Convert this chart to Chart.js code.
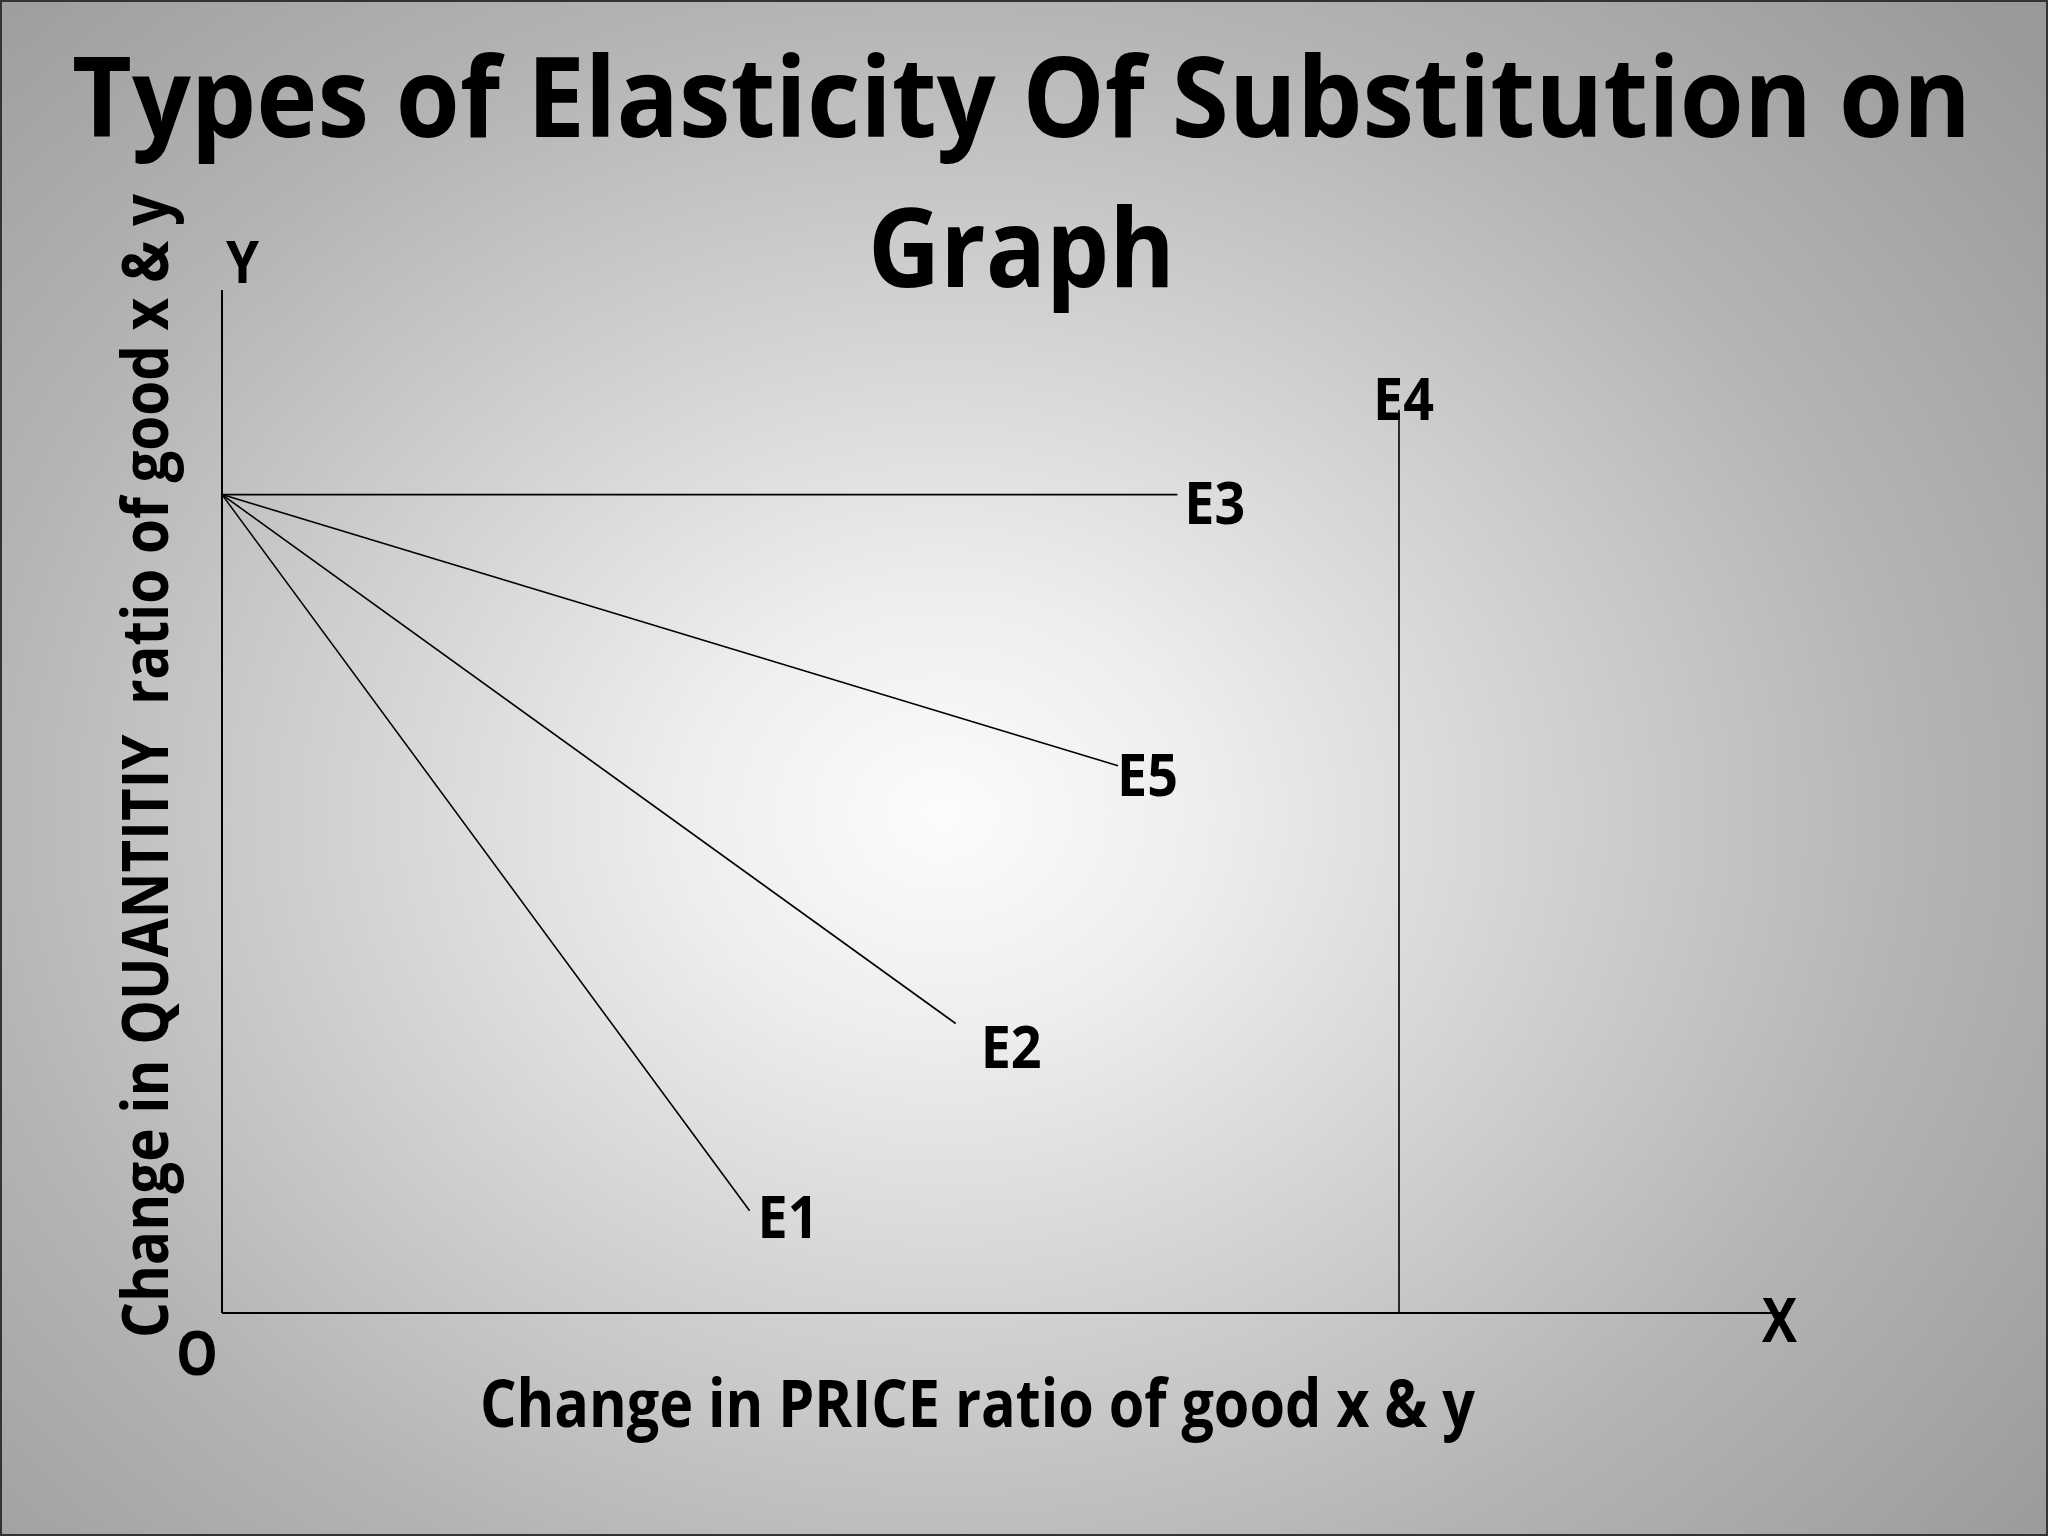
<!DOCTYPE html>
<html>
<head>
<meta charset="utf-8">
<title>Types of Elasticity Of Substitution on Graph</title>
<script src="https://cdn.jsdelivr.net/npm/chart.js@4.4.1/dist/chart.umd.min.js"></script>
<style>
  html, body { margin: 0; padding: 0; }
  body { width: 2048px; height: 1536px; overflow: hidden; }
  #wrap {
    position: relative; width: 2048px; height: 1536px;
    background: radial-gradient(ellipse 70% 78% at 46% 53%, #fcfcfc 0%, #eeeeee 18%, #d2d2d2 42%, #b4b4b4 68%, #999999 100%);
  }
  #wrap::after {
    content: ""; position: absolute; inset: 0;
    border: 2px solid #333; pointer-events: none;
  }
  canvas { display: block; }
</style>
</head>
<body>
<div id="wrap"><canvas id="grafik" width="2048" height="1536"></canvas></div>
<script>
// data (axis units 0..100 on both axes)
const lineNames = ["E1", "E2", "E3", "E4", "E5"];
const startX = [0, 0, 0, 75.4, 0];
const startY = [80, 80, 80, 0, 80];
const endX = [33.8, 47.0, 61.2, 75.4, 57.4];
const endY = [10.0, 28.3, 80, 88.3, 53.5];
const axisMax = 100;

// where each label sits relative to the end of its line (px)
const labelOffset = {
  E1: [8, 27], E2: [25, 45], E3: [7, 29], E4: [-26, 10], E5: [-1, 30]
};

// free text on the slide: left, baseline, width, cap height
const texts = [
  { t: "Types of Elasticity Of Substitution on", x: 72, y: 137, w: 1899, cap: 79 },
  { t: "Graph", x: 868, y: 287, w: 307, cap: 78 },
  { t: "Change in PRICE ratio of good x & y", x: 480, y: 1427, w: 995, cap: 47 },
  { t: "Change in QUANTITIY  ratio of good x & y", x: 168, y: 1338, w: 1144, cap: 46, rot: true },
  { t: "Y", x: 226, y: 283, w: 33, cap: 42 },
  { t: "X", x: 1762, y: 1342, w: 35, cap: 44 },
  { t: "O", x: 176, y: 1375, w: 42, cap: 43 }
];

function drawText(ctx, t, x, y, w, cap, rot) {
  const size = cap / 0.714;
  ctx.font = "bold " + size + "px 'Open Sans'";
  const natural = ctx.measureText(t).width;
  const sx = w ? w / natural : 0.88;
  ctx.save();
  ctx.translate(x, y);
  if (rot) ctx.rotate(-Math.PI / 2);
  ctx.scale(sx, 1);
  ctx.fillStyle = "#000";
  ctx.textAlign = "left";
  ctx.textBaseline = "alphabetic";
  ctx.fillText(t, 0, 0);
  ctx.restore();
}

const tulisan = {
  id: "tulisan",
  afterDatasetsDraw(chart) {
    const ctx = chart.ctx;
    const sx = chart.scales.x, sy = chart.scales.y;
    texts.forEach(o => drawText(ctx, o.t, o.x, o.y, o.w, o.cap, o.rot));
    for (let i = 0; i < lineNames.length; i++) {
      const off = labelOffset[lineNames[i]];
      const px = sx.getPixelForValue(endX[i]) + off[0];
      const py = sy.getPixelForValue(endY[i]) + off[1];
      drawText(ctx, lineNames[i], px, py, 61, 42, false);
    }
  }
};

const datasets = [
  { label: "Y axis", data: [{ x: 0, y: 0 }, { x: 0, y: axisMax }], borderWidth: 2 },
  { label: "X axis", data: [{ x: 0, y: 0 }, { x: axisMax, y: 0 }], borderWidth: 2 }
];
for (let i = 0; i < lineNames.length; i++) {
  datasets.push({
    label: lineNames[i],
    data: [{ x: startX[i], y: startY[i] }, { x: endX[i], y: endY[i] }],
    borderWidth: 1.6
  });
}
datasets.forEach(d => {
  d.showLine = true;
  d.borderColor = "#000";
  d.pointRadius = 0;
  d.clip = false;
});

new Chart(document.getElementById("grafik").getContext("2d"), {
  type: "scatter",
  data: { datasets: datasets },
  options: {
    responsive: false,
    animation: false,
    devicePixelRatio: 1,
    layout: { padding: { left: 222, top: 290, right: 265, bottom: 223 } },
    plugins: {
      legend: { display: false },
      tooltip: { enabled: false }
    },
    scales: {
      x: { type: "linear", min: 0, max: axisMax, display: false },
      y: { type: "linear", min: 0, max: axisMax, display: false }
    }
  },
  plugins: [tulisan]
});
</script>
</body>
</html>
